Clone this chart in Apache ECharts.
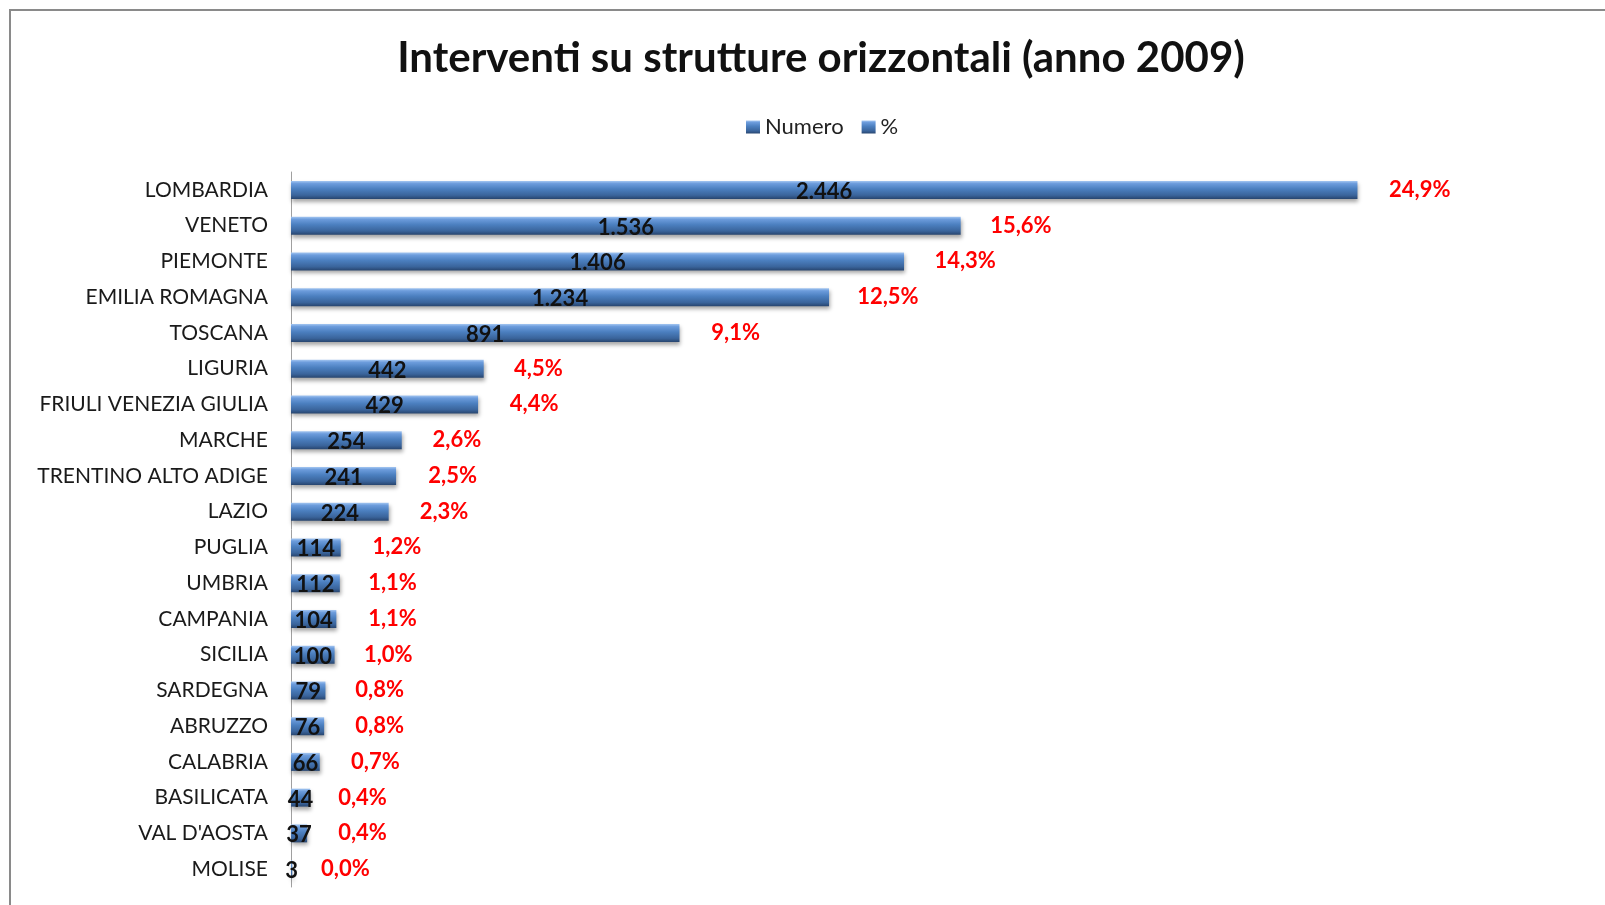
<!DOCTYPE html>
<html>
<head>
<meta charset="utf-8">
<script src="https://cdn.jsdelivr.net/npm/echarts@6/dist/echarts.min.js"></script>
<style>
  html, body { margin: 0; padding: 0; background: #fff; }
  #chart { width: 1605px; height: 905px; }
</style>
</head>
<body>
<div id="chart"></div>
<script>
// regioni, dall'alto verso il basso
const regioni = ['LOMBARDIA', 'VENETO', 'PIEMONTE', 'EMILIA ROMAGNA', 'TOSCANA', 'LIGURIA',
  'FRIULI VENEZIA GIULIA', 'MARCHE', 'TRENTINO ALTO ADIGE', 'LAZIO', 'PUGLIA', 'UMBRIA',
  'CAMPANIA', 'SICILIA', 'SARDEGNA', 'ABRUZZO', 'CALABRIA', 'BASILICATA', "VAL D'AOSTA", 'MOLISE']
const numero = [2446, 1536, 1406, 1234, 891, 442, 429, 254, 241, 224, 114, 112, 104, 100, 79, 76, 66, 44, 37, 3]
const percentuale = [24.9, 15.6, 14.3, 12.5, 9.1, 4.5, 4.4, 2.6, 2.5, 2.3, 1.2, 1.1, 1.1, 1.0, 0.8, 0.8, 0.7, 0.4, 0.4, 0.0]

const maxNumero = 2500
const totale = numero.reduce((s, v) => s + v, 0)
// asse secondario per le percentuali, allineato all'asse dei numeri
const maxPerc = maxNumero / totale * 100

const font = 'Lato, "Noto Sans", sans-serif'

const barColor = new echarts.graphic.LinearGradient(0, 0, 0, 1, [
  { offset: 0, color: '#a6c8f2' },
  { offset: 0.15, color: '#6c9cdc' },
  { offset: 0.45, color: '#4b7fbf' },
  { offset: 0.8, color: '#3a649b' },
  { offset: 1, color: '#284670' }
])

const chart = echarts.init(document.getElementById('chart'))

const option = {
  animation: false,
  textStyle: { fontFamily: font },
  graphic: [{
    type: 'rect',
    shape: { x: 10, y: 10, width: 1640, height: 940 },
    style: { fill: 'none', stroke: '#8a8a8a', lineWidth: 2 },
    silent: true
  }],
  title: {
    text: 'Interventi su strutture orizzontali (anno 2009)',
    left: 816,
    top: 32,
    textAlign: 'center',
    textStyle: { fontFamily: font, fontSize: 42, fontWeight: 'bold', color: '#111' }
  },
  legend: {
    left: 741,
    top: 111,
    itemWidth: 14,
    itemHeight: 13,
    itemGap: 18,
    textStyle: { fontFamily: font, fontSize: 22, color: '#222' },
    data: [
      { name: 'Numero', icon: 'rect', itemStyle: { color: barColor } },
      { name: '%', icon: 'rect', itemStyle: { color: barColor } }
    ]
  },
  grid: {
    left: 291,
    top: 172,
    width: 1090,
    height: 715
  },
  xAxis: [
    { type: 'value', min: 0, max: maxNumero, show: false },
    { type: 'value', min: 0, max: maxPerc, show: false }
  ],
  yAxis: {
    type: 'category',
    inverse: true,
    data: regioni,
    axisLine: { show: true, lineStyle: { color: '#a0a0a0', width: 1 } },
    axisTick: { show: false },
    axisLabel: {
      margin: 23,
      fontFamily: font,
      fontSize: 21,
      color: '#1a1a1a'
    }
  },
  series: [
    {
      name: 'Numero',
      type: 'bar',
      xAxisIndex: 0,
      barWidth: 18,
      data: numero,
      itemStyle: {
        color: barColor,
        shadowColor: 'rgba(0,0,0,0.35)',
        shadowBlur: 4,
        shadowOffsetY: 3,
        shadowOffsetX: 1
      },
      label: {
        show: true,
        position: 'inside',
        offset: [0, 2],
        fontFamily: font,
        fontSize: 22,
        fontWeight: 'bold',
        color: '#111',
        formatter: p => p.value.toLocaleString('it-IT')
      }
    },
    {
      name: '%',
      type: 'bar',
      xAxisIndex: 1,
      barWidth: 18,
      barGap: '-100%',
      data: percentuale,
      itemStyle: { color: 'rgba(0,0,0,0)' },
      label: {
        show: true,
        position: 'right',
        distance: 30,
        fontFamily: font,
        fontSize: 22,
        fontWeight: 'bold',
        color: '#ff0000',
        formatter: p => p.value.toFixed(1).replace('.', ',') + '%'
      }
    }
  ]
}

chart.setOption(option)
</script>
</body>
</html>
